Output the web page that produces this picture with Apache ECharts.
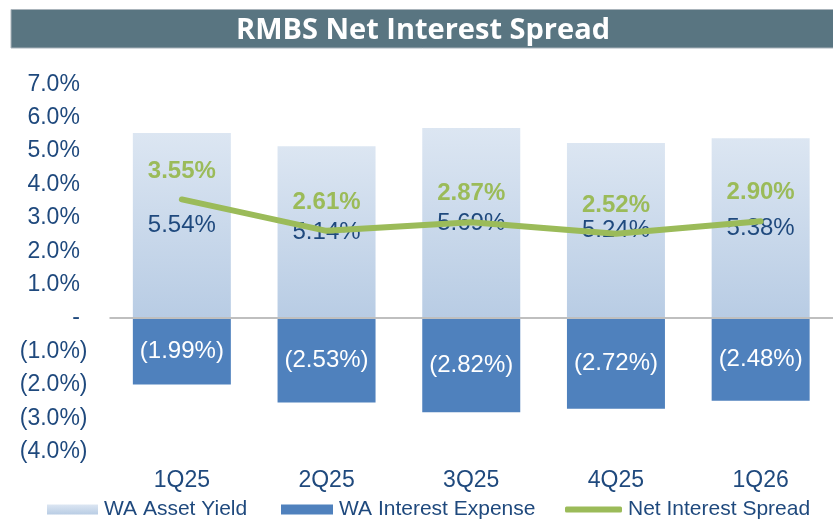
<!DOCTYPE html>
<html>
<head>
<meta charset="utf-8">
<script src="https://cdn.jsdelivr.net/npm/echarts@6/dist/echarts.min.js"></script>
<style>
html,body{margin:0;padding:0;background:#fff;}
#chart{width:833px;height:520px;}
</style>
</head>
<body>
<div id="chart"></div>
<script>
const categories = ['1Q25', '2Q25', '3Q25', '4Q25', '1Q26'];
const assetYield = [5.54, 5.14, 5.69, 5.24, 5.38];
const interestExpense = [-1.99, -2.53, -2.82, -2.72, -2.48];
const netSpread = [3.55, 2.61, 2.87, 2.52, 2.90];
const yTicks = { min: -4, max: 7, interval: 1 };

const DARK = '#1F497D';
const GREEN = '#9BBB59';
const FONT = '"Liberation Sans", Arial, sans-serif';

function pct(v) {
  const a = Math.abs(v).toFixed(2) + '%';
  return v < 0 ? '(' + a + ')' : a;
}

const chart = echarts.init(document.getElementById('chart'), null, { renderer: 'canvas' });

const legendBase = {
  top: 499,
  padding: 0,
  itemHeight: 10,
  itemGap: 0,
  textStyle: { fontFamily: FONT, fontSize: 21, color: DARK, padding: [0, 0, 0, 1] },
  selectedMode: false
};

chart.setOption({
  animation: false,
  backgroundColor: '#fff',
  graphic: [
    { type: 'rect', shape: { x: 11, y: 9.5, width: 830, height: 38.5 },
      style: { fill: '#597581', stroke: '#aab4bb', lineWidth: 1 }, z: 1 },
    { type: 'text', x: 423, y: 31, z: 2,
      style: { text: 'RMBS Net Interest Spread', fill: '#fff', font: 'bold 29px "Open Sans", Lato, sans-serif',
        textAlign: 'center', textVerticalAlign: 'middle' } }
  ],
  grid: { left: 109.5, top: 84.2, width: 730, height: 367.4, containLabel: false },
  legend: [
    Object.assign({}, legendBase, { left: 47, itemWidth: 51, icon: 'rect', data: ['WA Asset Yield'] }),
    Object.assign({}, legendBase, { left: 281, itemWidth: 52, icon: 'rect', data: ['WA Interest Expense'] }),
    Object.assign({}, legendBase, { left: 565, itemWidth: 57, itemHeight: 6, icon: 'roundRect',
      itemStyle: { color: GREEN }, data: ['Net Interest Spread'] })
  ],
  xAxis: {
    type: 'category',
    data: categories,
    axisLine: { show: false, onZero: false },
    axisTick: { show: false },
    axisLabel: { fontFamily: FONT, fontSize: 23, color: DARK, margin: 18 }
  },
  yAxis: {
    type: 'value',
    min: yTicks.min, max: yTicks.max, interval: yTicks.interval,
    splitLine: { show: false },
    axisLine: { show: false },
    axisTick: { show: false },
    axisLabel: {
      margin: 22,
      formatter: function (v) {
        if (v === 0) return '{a|-}{s|)}';
        if (v < 0) return '{a|(' + Math.abs(v).toFixed(1) + '%)}';
        return '{a|' + v.toFixed(1) + '%}{s|)}';
      },
      rich: {
        a: { fontFamily: FONT, fontSize: 23, color: DARK },
        s: { fontFamily: FONT, fontSize: 23, color: 'rgba(0,0,0,0)' }
      }
    }
  },
  series: [
    {
      name: 'WA Asset Yield',
      type: 'bar',
      stack: 'nis',
      barWidth: 98,
      data: assetYield,
      itemStyle: {
        color: new echarts.graphic.LinearGradient(0, 0, 0, 1, [
          { offset: 0, color: '#DCE6F2' },
          { offset: 1, color: '#B8CCE4' }
        ])
      },
      label: { show: true, position: 'inside', fontFamily: FONT, fontSize: 24, color: DARK,
        formatter: p => pct(p.value) },
      markLine: {
        silent: true, symbol: 'none', label: { show: false },
        lineStyle: { color: '#BFBFBF', width: 2, type: 'solid' },
        data: [{ yAxis: 0 }]
      }
    },
    {
      name: 'WA Interest Expense',
      type: 'bar',
      stack: 'nis',
      barWidth: 98,
      data: interestExpense,
      itemStyle: { color: '#4F81BD' },
      label: { show: true, position: 'inside', fontFamily: FONT, fontSize: 24, color: '#fff',
        formatter: p => pct(p.value) }
    },
    {
      name: 'Net Interest Spread',
      type: 'line',
      data: netSpread,
      symbol: 'circle',
      symbolSize: 1,
      showSymbol: true,
      itemStyle: { color: GREEN },
      lineStyle: { color: GREEN, width: 6, cap: 'round', join: 'round' },
      label: { show: true, position: 'top', distance: 16, fontFamily: FONT, fontSize: 24,
        fontWeight: 'bold', color: GREEN, formatter: p => pct(p.value) },
      z: 5
    }
  ]
});
</script>
</body>
</html>
